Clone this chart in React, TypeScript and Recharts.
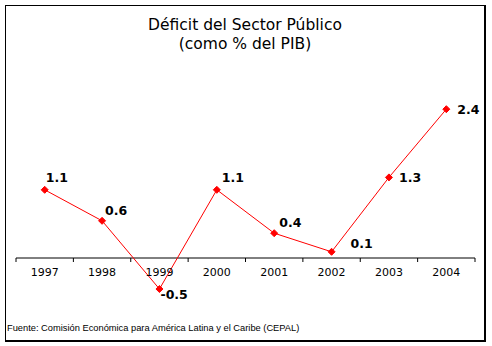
import React from 'react';
import { LineChart, Line, XAxis, YAxis, ReferenceLine, LabelList } from 'recharts';

const YEARS = ['1997', '1998', '1999', '2000', '2001', '2002', '2003', '2004'];
const DEFICIT = [1.1, 0.6, -0.5, 1.1, 0.4, 0.1, 1.3, 2.4];
// where each value label sits relative to its point [dx, dy]
const LABEL_OFFSETS = [[1, -12], [3, -10], [1, 5], [5, -12], [5, -11], [19, -8], [10, 0], [11, 0]];

const W = 492;
const H = 346;
const MARGIN = { top: 72, right: 17, bottom: 6, left: 16 };
const X_AXIS_H = 20;
const Y_MIN = -1;
const Y_MAX = 3;
const PLOT_H = H - MARGIN.top - MARGIN.bottom - X_AXIS_H;
const ZERO_Y = MARGIN.top + (Y_MAX / (Y_MAX - Y_MIN)) * PLOT_H;
const BAND = (W - MARGIN.left - MARGIN.right) / YEARS.length;

const data = YEARS.map((year, i) => ({ year, value: DEFICIT[i] }));

const FONT = '"DejaVu Sans", Verdana, sans-serif';

function YearTick(props: any) {
  const { x, payload, index } = props;
  const last = index === YEARS.length - 1;
  return (
    <g>
      <line x1={x - BAND / 2} x2={x - BAND / 2} y1={ZERO_Y} y2={ZERO_Y + 4} stroke="#000" />
      {last && <line x1={x + BAND / 2} x2={x + BAND / 2} y1={ZERO_Y} y2={ZERO_Y + 4} stroke="#000" />}
      <text x={x} y={ZERO_Y + 14} textAnchor="middle" dominantBaseline="central"
        fontFamily={FONT} fontSize={11} fill="#000">
        {payload.value}
      </text>
    </g>
  );
}

function Diamond(props: any) {
  const { cx, cy, index } = props;
  const r = 3.5;
  return (
    <polygon key={index} points={`${cx},${cy - r} ${cx + r},${cy} ${cx},${cy + r} ${cx - r},${cy}`}
      fill="#ff0000" stroke="#ff0000" />
  );
}

function ValueLabel(props: any) {
  const { x, y, value, index } = props;
  const [dx, dy] = LABEL_OFFSETS[index] || [0, 0];
  return (
    <text x={x + dx} y={y + dy} dominantBaseline="central" fontFamily={FONT}
      fontWeight="bold" fontSize={12.5} fill="#000">
      {String(value)}
    </text>
  );
}

export default function App() {
  return (
    <div style={{ position: 'absolute', left: 0, top: 0, width: W, height: H, background: '#fff', fontFamily: FONT }}>
      <div style={{
        position: 'absolute', left: 5, top: 5, width: 478, height: 334,
        borderLeft: '1px solid #000', borderTop: '1px solid #000',
        borderRight: '2px solid #000', borderBottom: '2px solid #000',
      }} />
      <div style={{ position: 'absolute', left: 5, top: 16, width: 480, textAlign: 'center', fontSize: 15.5, lineHeight: '19px', color: '#000' }}>
        <div>Déficit del Sector Público</div>
        <div>(como % del PIB)</div>
      </div>
      <div style={{ position: 'absolute', left: 0, top: 0 }}>
        <LineChart width={W} height={H} data={data} margin={MARGIN}>
          <XAxis dataKey="year" scale="band" interval={0} height={X_AXIS_H}
            axisLine={false} tickLine={false} tick={<YearTick />} />
          <YAxis hide type="number" domain={[Y_MIN, Y_MAX]} />
          <ReferenceLine y={0} stroke="#000" strokeWidth={1} />
          <Line dataKey="value" stroke="#ff0000" strokeWidth={1} dot={Diamond}
            activeDot={false} isAnimationActive={false}>
            <LabelList dataKey="value" content={ValueLabel} />
          </Line>
        </LineChart>
      </div>
      <div style={{ position: 'absolute', left: 7, top: 321, fontFamily: '"Liberation Sans", Arial, sans-serif', fontSize: 9.3, lineHeight: '14px', color: '#000', whiteSpace: 'nowrap' }}>
        Fuente: Comisión Económica para América Latina y el Caribe (CEPAL)
      </div>
    </div>
  );
}
